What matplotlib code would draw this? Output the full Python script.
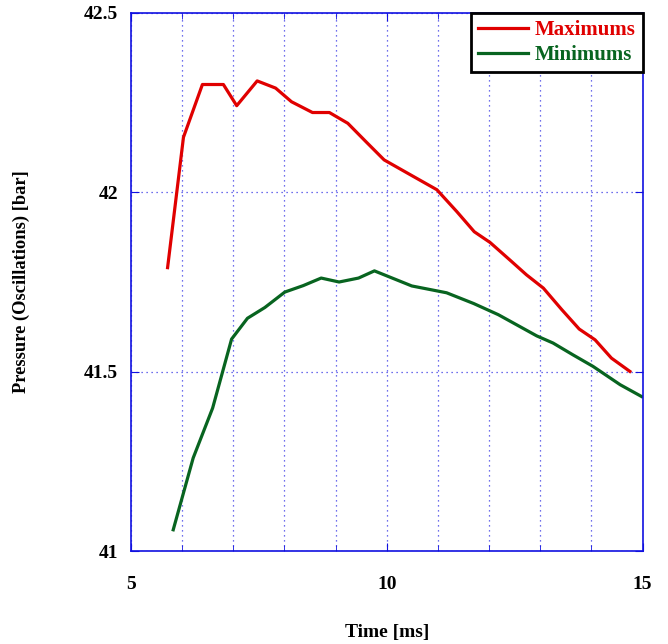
import numpy as np
import matplotlib
matplotlib.use("Agg")
from matplotlib import pyplot as plt
from matplotlib.ticker import MultipleLocator, FormatStrFormatter

# pressure oscillation envelope
t_max = [5.72, 6.03, 6.40, 6.81, 7.07, 7.47, 7.83, 8.14, 8.55, 8.88, 9.24, 9.60,
         9.95, 10.52, 10.98, 11.37, 11.71, 12.02, 12.44, 12.73, 13.06, 13.42,
         13.76, 14.07, 14.39, 14.75]
p_max = [41.79, 42.153, 42.30, 42.30, 42.241, 42.31, 42.29, 42.252, 42.222, 42.222,
         42.192, 42.14, 42.09, 42.044, 42.007, 41.946, 41.89, 41.86, 41.807, 41.77,
         41.733, 41.673, 41.619, 41.589, 41.538, 41.501]

t_min = [5.83, 6.22, 6.60, 6.97, 7.28, 7.62, 8.01, 8.37, 8.72, 9.07, 9.45, 9.76,
         10.49, 11.17, 11.70, 12.18, 12.93, 13.25, 13.64, 14.03, 14.56, 14.98]
p_min = [41.06, 41.26, 41.399, 41.591, 41.649, 41.679, 41.722, 41.740, 41.761,
         41.750, 41.761, 41.781, 41.739, 41.72, 41.69, 41.659, 41.60, 41.58,
         41.547, 41.515, 41.464, 41.431]

RED = "#e00000"
GREEN = "#086420"
BLUE = "#1010e0"

plt.rcParams["font.family"] = ["Liberation Serif", "DejaVu Serif"]
plt.rcParams["font.weight"] = "bold"

fig = plt.figure(figsize=(6.68, 6.44), dpi=100)
ax = fig.add_axes([0.1957, 0.1439, 0.7664, 0.8364])

ax.plot(t_max, p_max, color=RED, lw=2.3, label="Maximums")
ax.plot(t_min, p_min, color=GREEN, lw=2.3, label="Minimums")

ax.set_xlim(5, 15)
ax.set_ylim(41, 42.5)
ax.xaxis.set_major_locator(MultipleLocator(5))
ax.xaxis.set_minor_locator(MultipleLocator(1))
ax.yaxis.set_major_locator(MultipleLocator(0.5))
ax.yaxis.set_major_formatter(FormatStrFormatter("%g"))

for s in ax.spines.values():
    s.set_color(BLUE)
    s.set_linewidth(1.2)

ax.grid(which="both", color=BLUE, linestyle=(0, (1, 3)), linewidth=0.9, alpha=0.8)
ax.tick_params(which="both", direction="in", color=BLUE, top=True, right=True)
ax.tick_params(which="major", length=6, labelsize=14, pad=9)
ax.tick_params(which="minor", length=4)
ax.tick_params(axis="x", which="major", pad=18)
for lbl in ax.get_xticklabels() + ax.get_yticklabels():
    lbl.set_fontweight("bold")

ax.set_xlabel("Time [ms]", fontsize=14, fontweight="bold", labelpad=22)
ax.set_ylabel("Pressure (Oscillations) [bar]", fontsize=13.3, fontweight="bold", labelpad=39)

leg = ax.legend(loc="upper right", borderaxespad=0, fancybox=False, framealpha=1,
                prop={"weight": "bold", "size": 15}, handlelength=2.4, borderpad=0.35,
                handletextpad=0.3, labelspacing=0.25)
leg.get_frame().set_edgecolor("black")
leg.get_frame().set_linewidth(2)
for txt, c in zip(leg.get_texts(), [RED, GREEN]):
    txt.set_color(c)

fig.savefig("out.png", dpi=100)
